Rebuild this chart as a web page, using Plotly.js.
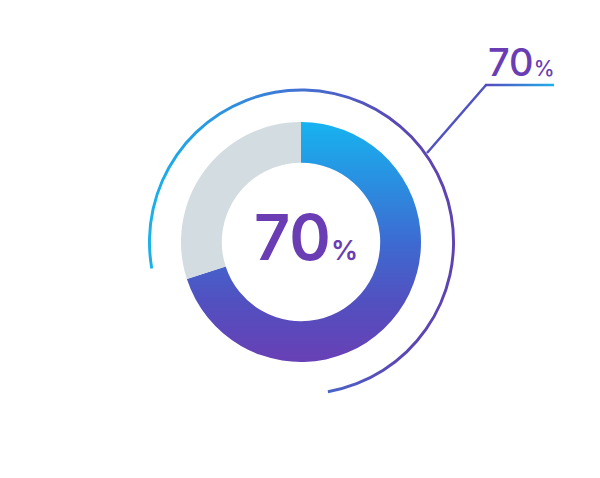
<!DOCTYPE html>
<html>
<head>
<meta charset="utf-8">
<script src="https://cdn.plot.ly/plotly-3.0.1.min.js"></script>
<style>html,body{margin:0;padding:0;background:#fff;}#chart{width:600px;height:478px;}</style>
</head>
<body>
<div id="chart"></div>
<script>
// Data
var sliceLabels = ['70%', '30%'];
var sliceValues = [70, 30];
var arcLabels = ['arc', 'gap'];
var arcValues = [75, 25];
var centerLabel = '70';
var calloutLabel = '70';

var W = 600, H = 478;
function px(x) { return x / W; }
function py(y) { return 1 - y / H; }

var donut = {
  type: 'pie',
  labels: sliceLabels,
  values: sliceValues,
  sort: false,
  direction: 'clockwise',
  rotation: 0,
  hole: 0.66,
  textinfo: 'none',
  hoverinfo: 'skip',
  showlegend: false,
  marker: { colors: ['#3f6ad0', '#d3dce0'], line: { width: 0 } },
  domain: { x: [px(181), px(421)], y: [py(362), py(122)] }
};

var arc = {
  type: 'pie',
  labels: arcLabels,
  values: arcValues,
  sort: false,
  direction: 'clockwise',
  rotation: 260,
  hole: 0.981,
  textinfo: 'none',
  hoverinfo: 'skip',
  showlegend: false,
  marker: { colors: ['#3a80d8', 'rgba(0,0,0,0)'], line: { width: 0 } },
  domain: { x: [px(148), px(455)], y: [py(395.5), py(88.5)] }
};

var purple = '#6a3db4';
var layout = {
  width: W, height: H,
  margin: { l: 0, r: 0, t: 0, b: 0 },
  paper_bgcolor: '#ffffff',
  plot_bgcolor: '#ffffff',
  showlegend: false,
  shapes: [
    { type: 'line', xref: 'paper', yref: 'paper', x0: px(427), y0: py(153), x1: px(486), y1: py(85),
      line: { color: '#4f52c0', width: 2.5 } },
    { type: 'line', xref: 'paper', yref: 'paper', x0: px(485), y0: py(85), x1: px(554), y1: py(85),
      line: { color: '#3a80d8', width: 2.5 } }
  ],
  annotations: [
    { xref: 'paper', yref: 'paper', x: px(306), y: py(237), xanchor: 'center', yanchor: 'middle',
      showarrow: false,
      text: centerLabel + '<span style="font-size:27px">%</span>',
      font: { family: 'Inter', size: 63, color: purple, weight: 600 } },
    { xref: 'paper', yref: 'paper', x: px(486), y: py(62), xanchor: 'left', yanchor: 'middle',
      showarrow: false,
      text: calloutLabel + '<span style="font-size:21px">%</span>',
      font: { family: 'Inter', size: 38, color: purple, weight: 500 } }
  ]
};

function mkGrad(defs, id, attrs, stops) {
  var ns = 'http://www.w3.org/2000/svg';
  var g = document.createElementNS(ns, 'linearGradient');
  g.setAttribute('id', id);
  for (var k in attrs) g.setAttribute(k, attrs[k]);
  stops.forEach(function (s) {
    var st = document.createElementNS(ns, 'stop');
    st.setAttribute('offset', s[0]);
    st.setAttribute('stop-color', s[1]);
    g.appendChild(st);
  });
  defs.appendChild(g);
}

Plotly.newPlot('chart', [donut, arc], layout, { staticPlot: true, displayModeBar: false }).then(function (gd) {
  var svg = gd.querySelector('svg.main-svg');
  var defs = svg.querySelector('defs');
  if (!defs) { defs = document.createElementNS('http://www.w3.org/2000/svg', 'defs'); svg.insertBefore(defs, svg.firstChild); }
  mkGrad(defs, 'gDonut', { x1: 0, y1: 0, x2: 0, y2: 1 },
    [[0, '#17b3f0'], [0.5, '#3d6bd1'], [0.75, '#5250c0'], [1, '#6840b5']]);
  mkGrad(defs, 'gArc', { x1: 0, y1: 0.5, x2: 1, y2: 0.5 },
    [[0, '#18b2ec'], [0.45, '#3f78d6'], [0.8, '#5a48b6'], [1, '#5e42b2']]);
  mkGrad(defs, 'gLine', { gradientUnits: 'userSpaceOnUse', x1: 485, y1: 85, x2: 554, y2: 85 },
    [[0, '#5548bb'], [1, '#1fb0ea']]);
  var traces = gd.querySelectorAll('.pielayer .trace');
  if (traces[0]) {
    var s = traces[0].querySelectorAll('.slice path.surface');
    if (s[0]) s[0].style.fill = 'url(#gDonut)';
  }
  if (traces[1]) {
    var s2 = traces[1].querySelectorAll('.slice path.surface');
    if (s2[0]) s2[0].style.fill = 'url(#gArc)';
  }
  var shp = gd.querySelectorAll('.shapelayer path');
  if (shp[1]) shp[1].style.stroke = 'url(#gLine)';
});
</script>
</body>
</html>
